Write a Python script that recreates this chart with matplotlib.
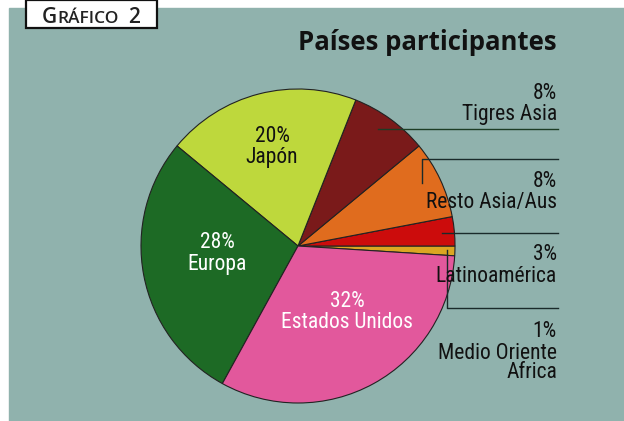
import matplotlib.pyplot as plt
from matplotlib.patches import Rectangle

# data (counter-clockwise from the small slice at the right)
regions = ['Medio Oriente\nAfrica', 'Latinoamérica', 'Resto Asia/Aus', 'Tigres Asia',
           'Japón', 'Europa', 'Estados Unidos']
shares = [1, 3, 8, 8, 20, 28, 32]
colors = ['#dba622', '#cc0c0c', '#e06c1e', '#7a1a1a', '#bed83c', '#1d6a25', '#e2589c']

W, H = 624, 421
BG = '#90b2ad'
NARROW = ['Roboto Condensed', 'Barlow Condensed', 'Archivo Narrow', 'DejaVu Sans']
LSIZE = 15.5
LW = 'normal'

fig = plt.figure(figsize=(W / 100, H / 100), dpi=100)
ax = fig.add_axes([0, 0, 1, 1])

def Y(y):
    return H - y

# panel background and header box
ax.add_patch(Rectangle((9, 0), W - 9, Y(8), color=BG, zorder=0))
ax.add_patch(Rectangle((26, Y(28)), 131, 28, facecolor='white', edgecolor='#111111',
                       linewidth=1.6, zorder=1, clip_on=False))
hdr = dict(family='Open Sans', fontweight='semibold', color='#222222', va='baseline',
           ha='left')
ax.text(42, Y(23), 'G', fontsize=15, **hdr)
ax.text(57, Y(23), 'RÁFICO', fontsize=12.5, **hdr)
ax.text(128, Y(23), '2', fontsize=15, **hdr)

ax.text(557, Y(50), 'Países participantes', fontsize=18.5, family='Open Sans',
        fontweight='bold', color='#111111', ha='right', va='baseline')

# pie
cx, cy, r = 298, Y(246), 157
start = -shares[0] * 3.6
wedges, _ = ax.pie(shares, colors=colors, startangle=start, counterclock=True,
                   center=(cx, cy), radius=r, frame=True,
                   wedgeprops=dict(edgecolor='#222222', linewidth=0.8))

# inside labels
inside = {4: ((272, 142, 163), '#111111'),
          5: ((217, 248, 270), 'white'),
          6: ((347, 307, 328), 'white')}
for i, ((x, y1, y2), c) in inside.items():
    ax.text(x, Y(y1), f'{shares[i]}%', fontsize=LSIZE, family=NARROW, fontweight=LW,
            color=c, ha='center', va='baseline')
    ax.text(x, Y(y2), regions[i], fontsize=LSIZE, family=NARROW, fontweight=LW,
            color=c, ha='center', va='baseline')

# right side labels (baseline of the last line)
side = {3: (99, 120), 2: (187, 208), 1: (260, 282), 0: (337, 378)}
for i, (y1, y2) in side.items():
    ax.text(557, Y(y1), f'{shares[i]}%', fontsize=LSIZE, family=NARROW, fontweight=LW,
            color='#111111', ha='right', va='baseline')
    ax.text(557, Y(y2), regions[i], fontsize=LSIZE, family=NARROW, fontweight=LW,
            color='#111111', ha='right', va='baseline', linespacing=0.9,
            multialignment='right')

# leader lines
lc = '#1a2a2a'
ax.plot([378, 558], [Y(129), Y(129)], color='#1d3d25', lw=1)
ax.plot([422, 422, 558], [Y(183), Y(159), Y(159)], color=lc, lw=1)
ax.plot([442, 558], [Y(233), Y(233)], color=lc, lw=1)
ax.plot([447, 447, 558], [Y(250), Y(308), Y(308)], color=lc, lw=1)

ax.set_xlim(0, W)
ax.set_ylim(0, H)
ax.set_aspect('auto')
ax.axis('off')

fig.savefig('out.png', dpi=100, facecolor='white')
